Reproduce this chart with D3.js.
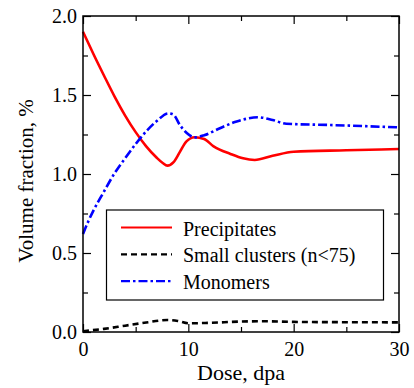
<!DOCTYPE html>
<html>
<head>
<meta charset="utf-8">
<script src="https://cdn.jsdelivr.net/npm/d3@7"></script>
</head>
<body style="margin:0">
<script>
// Precipitates
const precipDose = [0, 1, 2, 3, 4, 5, 6, 7, 7.6, 8.0, 8.6, 9.2, 9.8, 10.6, 11.5, 12.4, 14, 15.2, 16.3, 18, 20, 25, 30];
const precipVal  = [1.9, 1.758, 1.622, 1.49, 1.37, 1.265, 1.175, 1.103, 1.068, 1.053, 1.075, 1.14, 1.205, 1.233, 1.222, 1.175, 1.127, 1.099, 1.089, 1.115, 1.141, 1.15, 1.158];

// Small clusters (n<75)
const clusterDose = [0, 2, 4, 6, 8, 9, 10, 12, 15, 17, 20, 25, 30];
const clusterVal  = [0.005, 0.02, 0.04, 0.06, 0.076, 0.07, 0.055, 0.058, 0.066, 0.068, 0.064, 0.062, 0.061];

// Monomers
const monoDose = [0, 0.5, 1, 2, 3, 4, 5, 6, 7, 8.1, 8.6, 9.2, 9.85, 10.6, 11.5, 13, 14.5, 16.6, 18, 19.3, 23.5, 30];
const monoVal  = [0.62, 0.70, 0.77, 0.89, 1.005, 1.1, 1.19, 1.27, 1.335, 1.384, 1.375, 1.31, 1.26, 1.232, 1.245, 1.29, 1.33, 1.359, 1.342, 1.318, 1.31, 1.295];

const seriesNames = ["Precipitates", "Small clusters (n<75)", "Monomers"];
const xMajor = [0, 10, 20, 30];
const xMinor = [5, 15, 25];
const yMajor = [0, 0.5, 1.0, 1.5, 2.0];
const yMinor = [0.25, 0.75, 1.25, 1.75];

const serif = "Liberation Serif";
const width = 414, height = 388;
const margin = { top: 16, right: 15, bottom: 56, left: 83 };
const w = width - margin.left - margin.right;
const h = height - margin.top - margin.bottom;

const svg = d3.select("body").append("svg")
  .attr("width", width)
  .attr("height", height);

const g = svg.append("g")
  .attr("transform", `translate(${margin.left},${margin.top})`);

const x = d3.scaleLinear().domain([0, 30]).range([0, w]);
const y = d3.scaleLinear().domain([0, 2]).range([h, 0]);

const series = [
  { name: seriesNames[0], dose: precipDose, val: precipVal, color: "#ff0000", dash: null },
  { name: seriesNames[1], dose: clusterDose, val: clusterVal, color: "#000000", dash: "6,4" },
  { name: seriesNames[2], dose: monoDose, val: monoVal, color: "#0000ff", dash: "9,3,2.5,3" }
];

const line = d3.line()
  .x(d => x(d[0]))
  .y(d => y(d[1]))
  .curve(d3.curveMonotoneX);

series.forEach(s => {
  g.append("path")
    .datum(s.dose.map((d, i) => [d, s.val[i]]))
    .attr("fill", "none")
    .attr("stroke", s.color)
    .attr("stroke-width", 2.6)
    .attr("stroke-dasharray", s.dash)
    .attr("d", line);
});

// ticks point inward on all four sides
function tidy(sel) {
  sel.select(".domain").remove();
  sel.selectAll("line").attr("stroke", "#000").attr("stroke-width", 1.2);
  sel.selectAll("text")
    .attr("fill", "#000")
    .attr("font-family", serif)
    .attr("font-size", 20);
}

g.append("g")
  .call(d3.axisLeft(y).tickValues(yMajor).tickSize(-8).tickPadding(6).tickFormat(d3.format(".1f")))
  .call(tidy);
g.append("g")
  .call(d3.axisLeft(y).tickValues(yMinor).tickSize(-5).tickFormat(""))
  .call(tidy);
g.append("g")
  .attr("transform", `translate(${w},0)`)
  .call(d3.axisRight(y).tickValues(yMajor).tickSize(-8).tickFormat(""))
  .call(tidy);
g.append("g")
  .attr("transform", `translate(${w},0)`)
  .call(d3.axisRight(y).tickValues(yMinor).tickSize(-5).tickFormat(""))
  .call(tidy);

g.append("g")
  .attr("transform", `translate(0,${h})`)
  .call(d3.axisBottom(x).tickValues(xMajor).tickSize(-8).tickPadding(10).tickFormat(d3.format("d")))
  .call(tidy);
g.append("g")
  .attr("transform", `translate(0,${h})`)
  .call(d3.axisBottom(x).tickValues(xMinor).tickSize(-5).tickFormat(""))
  .call(tidy);
g.append("g")
  .call(d3.axisTop(x).tickValues(xMajor).tickSize(-8).tickFormat(""))
  .call(tidy);
g.append("g")
  .call(d3.axisTop(x).tickValues(xMinor).tickSize(-5).tickFormat(""))
  .call(tidy);

// frame
g.append("rect")
  .attr("width", w)
  .attr("height", h)
  .attr("fill", "none")
  .attr("stroke", "#000")
  .attr("stroke-width", 1.5);

// axis titles
svg.append("text")
  .attr("x", margin.left + w / 2)
  .attr("y", 380)
  .attr("text-anchor", "middle")
  .attr("font-family", serif)
  .attr("font-size", 22)
  .text("Dose, dpa");

svg.append("text")
  .attr("transform", "translate(33,181) rotate(-90)")
  .attr("text-anchor", "middle")
  .attr("font-family", serif)
  .attr("font-size", 21)
  .text("Volume fraction, %");

// legend
const legend = svg.append("g");
legend.append("rect")
  .attr("x", 106.5).attr("y", 210)
  .attr("width", 277).attr("height", 90)
  .attr("fill", "#fff")
  .attr("stroke", "#000")
  .attr("stroke-width", 1.2);

series.forEach((s, i) => {
  const ly = 227.5 + i * 26.8;
  legend.append("line")
    .attr("x1", 121).attr("x2", 172)
    .attr("y1", ly).attr("y2", ly)
    .attr("stroke", s.color)
    .attr("stroke-width", 2.2)
    .attr("stroke-dasharray", s.dash);
  legend.append("text")
    .attr("x", 183)
    .attr("y", ly + 8)
    .attr("font-family", serif)
    .attr("font-size", 20)
    .text(s.name);
});
</script>
</body>
</html>
